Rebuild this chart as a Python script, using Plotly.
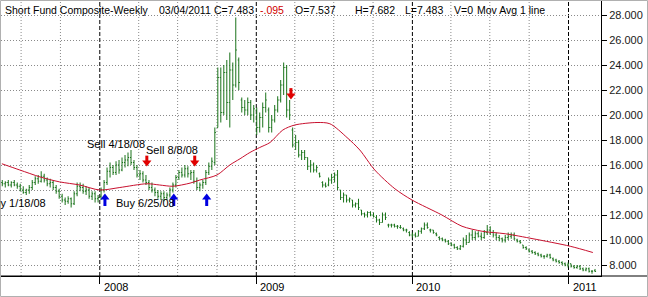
import plotly.graph_objects as go
import pandas as pd

# ---------------- data (weekly OHLC) ----------------
open_ = [
    14.6, 14.5, 14.6, 14.4, 14.6, 14.4, 14.3, 14.0, 13.8, 14.0,
    14.2, 14.6, 14.9, 14.7, 15.1, 14.8, 14.5, 14.6, 14.2, 13.9,
    13.5, 13.2, 13.1, 13.3, 12.9, 13.7, 14.3, 14.2, 13.9, 14.0,
    13.5, 13.7, 13.3, 13.5, 14.0, 14.6, 15.5, 15.8, 15.4, 16.0,
    15.6, 16.2, 16.4, 16.6, 16.2, 15.8, 15.2, 15.3, 14.8, 14.6,
    14.2, 14.0, 13.8, 13.5, 13.7, 13.4, 13.6, 14.0, 14.4, 15.0,
    15.4, 15.2, 15.7, 15.3, 15.4, 14.7, 14.2, 14.4, 14.6, 15.4,
    15.9, 16.2, 19.0, 23.0, 20.2, 23.4, 21.0, 23.6, 22.4, 24.4,
    21.2, 20.6, 20.4, 21.0, 20.0, 20.4, 19.0, 19.8, 20.6, 20.4,
    19.0, 19.6, 20.4, 21.2, 22.4, 23.8, 20.4, 18.8, 17.6, 17.8,
    16.8, 17.0, 16.6, 15.9, 16.0, 15.6, 15.3, 14.6, 14.4, 14.4,
    14.8, 15.0, 15.2, 14.0, 13.4, 13.6, 13.2, 13.2, 12.8, 12.9,
    12.4, 12.1, 12.0, 12.2, 12.0, 11.8, 11.6, 11.4, 12.0, 11.2,
    11.2, 11.2, 11.1, 11.0, 10.9, 10.8, 10.6, 10.4, 10.4, 10.3,
    10.7, 10.9, 11.2, 10.8, 10.8, 10.5, 10.2, 10.1, 10.0, 9.9,
    9.7, 9.6, 9.4, 9.3, 9.5, 10.0, 9.8, 10.4, 10.2, 10.5,
    10.3, 10.2, 10.6, 10.8, 10.6, 10.4, 10.2, 10.1, 10.0, 10.2,
    10.3, 10.4, 10.0, 9.9, 9.6, 9.4, 9.2, 9.1, 9.0, 8.9,
    8.8, 8.7, 8.7, 8.8, 8.5, 8.4, 8.3, 8.2, 8.1, 8.0,
    8.1, 7.9, 7.8, 7.9, 7.7, 7.6, 7.7, 7.5, 7.537,
]
high = [
    14.8, 14.7, 14.8, 14.7, 14.8, 14.6, 14.5, 14.3, 14.1, 14.4,
    14.8, 15.1, 15.2, 15.5, 15.3, 15.0, 14.9, 14.8, 14.4, 14.1,
    13.7, 13.4, 13.5, 13.4, 13.9, 14.6, 14.6, 14.5, 14.3, 14.2,
    13.9, 13.9, 13.6, 14.2, 14.8, 15.8, 16.2, 16.0, 16.3, 16.4,
    16.6, 16.8, 17.0, 17.2, 16.4, 16.0, 15.6, 15.5, 15.2, 14.8,
    14.6, 14.2, 14.0, 13.9, 13.9, 13.8, 14.2, 14.6, 15.2, 15.6,
    15.8, 16.0, 15.9, 15.6, 15.6, 15.0, 14.6, 14.8, 15.6, 16.2,
    16.6, 19.0, 23.8, 23.8, 24.0, 24.4, 25.0, 24.2, 27.8, 24.6,
    21.4, 21.2, 21.4, 21.2, 20.8, 20.6, 20.2, 21.0, 21.8, 20.6,
    20.0, 20.8, 21.5, 22.8, 24.2, 24.0, 21.2, 19.0, 18.4, 18.0,
    17.2, 17.2, 16.6, 16.4, 16.2, 16.0, 15.4, 14.7, 14.6, 15.0,
    15.3, 15.4, 15.6, 14.0, 13.8, 13.6, 13.4, 13.2, 13.0, 13.3,
    12.4, 12.2, 12.3, 12.3, 12.2, 12.0, 11.7, 12.2, 12.2, 11.3,
    11.3, 11.3, 11.2, 11.2, 11.0, 10.9, 10.7, 10.6, 10.6, 10.8,
    11.0, 11.4, 11.4, 10.9, 10.8, 10.6, 10.3, 10.2, 10.1, 10.0,
    9.8, 9.7, 9.5, 9.6, 10.2, 10.4, 10.6, 10.8, 10.7, 10.7,
    10.6, 10.8, 11.2, 11.1, 10.8, 10.6, 10.4, 10.2, 10.4, 10.6,
    10.6, 10.6, 10.1, 10.0, 9.6, 9.5, 9.3, 9.2, 9.1, 9.0,
    8.9, 8.8, 8.9, 8.9, 8.6, 8.5, 8.4, 8.3, 8.2, 8.2,
    8.1, 8.0, 8.0, 8.0, 7.8, 7.8, 7.8, 7.6, 7.682,
]
low = [
    14.3, 14.2, 14.3, 14.2, 14.3, 14.1, 13.9, 13.7, 13.6, 13.7,
    14.0, 14.4, 14.5, 14.6, 14.6, 14.3, 14.2, 14.0, 13.7, 13.3,
    13.0, 12.8, 12.9, 12.6, 12.8, 13.5, 13.9, 13.7, 13.6, 13.3,
    13.2, 13.0, 13.0, 13.2, 13.8, 14.4, 15.0, 15.2, 15.2, 15.3,
    15.5, 15.8, 15.9, 16.0, 15.6, 15.0, 14.8, 14.6, 14.4, 14.0,
    13.8, 13.5, 13.3, 13.2, 13.1, 13.2, 13.4, 13.8, 14.2, 14.8,
    15.0, 15.0, 15.0, 14.8, 14.5, 14.0, 13.9, 14.1, 14.4, 15.2,
    15.6, 16.0, 19.0, 19.4, 20.0, 19.6, 19.0, 21.2, 22.2, 22.0,
    20.2, 20.0, 20.0, 19.6, 19.4, 18.4, 18.6, 19.0, 20.2, 18.6,
    18.6, 19.4, 20.2, 21.0, 21.6, 19.8, 19.6, 17.4, 17.2, 16.6,
    16.4, 16.4, 15.6, 15.4, 15.4, 15.4, 15.0, 14.2, 14.2, 14.3,
    14.5, 14.6, 14.0, 13.2, 13.0, 13.0, 13.0, 12.6, 12.6, 12.4,
    12.0, 11.8, 11.8, 11.9, 11.8, 11.4, 11.2, 11.4, 11.6, 11.0,
    11.0, 11.0, 10.9, 10.9, 10.7, 10.6, 10.3, 10.2, 10.2, 10.3,
    10.5, 10.8, 10.9, 10.6, 10.5, 10.3, 10.0, 9.9, 9.8, 9.6,
    9.5, 9.3, 9.2, 9.2, 9.4, 9.6, 9.8, 10.0, 10.0, 10.2,
    10.0, 10.1, 10.4, 10.4, 10.2, 10.0, 9.9, 9.8, 9.8, 10.0,
    10.1, 10.0, 9.8, 9.7, 9.3, 9.2, 9.0, 8.9, 8.8, 8.7,
    8.6, 8.5, 8.6, 8.5, 8.3, 8.2, 8.1, 8.0, 7.9, 7.8,
    7.8, 7.7, 7.7, 7.6, 7.5, 7.5, 7.4, 7.3, 7.483,
]
close = [
    14.5, 14.6, 14.4, 14.6, 14.4, 14.3, 14.0, 13.8, 14.0, 14.2,
    14.6, 14.9, 14.7, 15.1, 14.8, 14.5, 14.6, 14.2, 13.9, 13.5,
    13.2, 13.1, 13.3, 12.9, 13.7, 14.3, 14.2, 13.9, 14.0, 13.5,
    13.7, 13.3, 13.4, 14.0, 14.6, 15.5, 15.8, 15.4, 16.0, 15.6,
    16.2, 16.4, 16.6, 16.2, 15.8, 15.2, 15.3, 14.8, 14.6, 14.2,
    14.0, 13.8, 13.5, 13.7, 13.4, 13.6, 14.0, 14.4, 15.0, 15.4,
    15.2, 15.7, 15.3, 15.4, 14.7, 14.2, 14.4, 14.6, 15.4, 15.9,
    16.3, 18.6, 23.0, 20.2, 23.4, 21.0, 23.6, 22.4, 25.2, 22.6,
    20.6, 20.4, 21.0, 20.0, 20.5, 19.0, 19.8, 20.6, 21.2, 19.0,
    19.6, 20.4, 21.2, 22.4, 23.8, 20.4, 20.0, 17.6, 17.8, 16.8,
    17.0, 16.6, 15.9, 16.0, 15.6, 15.8, 15.1, 14.4, 14.3, 14.8,
    15.0, 15.2, 14.2, 13.4, 13.6, 13.2, 13.3, 12.8, 12.9, 12.6,
    12.1, 12.0, 12.2, 12.0, 11.9, 11.6, 11.4, 12.0, 11.8, 11.2,
    11.2, 11.1, 11.1, 11.0, 10.8, 10.8, 10.4, 10.4, 10.3, 10.7,
    10.9, 11.2, 11.0, 10.8, 10.6, 10.4, 10.1, 10.0, 9.9, 9.7,
    9.6, 9.4, 9.3, 9.5, 10.0, 9.8, 10.4, 10.2, 10.5, 10.3,
    10.2, 10.6, 10.8, 10.6, 10.4, 10.2, 10.1, 10.0, 10.2, 10.3,
    10.4, 10.1, 9.9, 9.8, 9.4, 9.3, 9.1, 9.0, 8.9, 8.8,
    8.7, 8.7, 8.8, 8.6, 8.4, 8.3, 8.2, 8.1, 8.0, 8.1,
    7.9, 7.8, 7.9, 7.7, 7.6, 7.7, 7.5, 7.5, 7.483,
]
last_date = "2011-03-04"

# moving average line
ma_dates = [
    "2007-05-17", "2007-06-28", "2007-08-14", "2007-09-29", "2007-11-15",
    "2008-01-01", "2008-02-17", "2008-04-20", "2008-05-20", "2008-06-20",
    "2008-07-30", "2008-08-22", "2008-10-01", "2008-10-31", "2008-11-24",
    "2008-12-17", "2009-01-09", "2009-02-02", "2009-03-04", "2009-04-01",
    "2009-05-23", "2009-06-22", "2009-08-01", "2009-08-31", "2009-10-05",
    "2009-11-21", "2009-12-31", "2010-03-11", "2010-04-27", "2010-06-13",
    "2010-08-06", "2010-10-10", "2011-01-05", "2011-02-27",
]
ma_values = [
    16.1, 15.6, 15.05, 14.65, 14.4,
    14.0, 14.2, 14.5, 14.4, 14.3,
    14.55, 14.8, 15.2, 16.0, 16.5,
    17.0, 17.4, 17.8, 18.8, 19.2,
    19.4, 19.3, 18.2, 17.2, 15.6,
    14.1, 13.2, 12.0, 11.1, 10.7,
    10.5, 10.1, 9.5, 9.0,
]

# signal arrows: head position and shaft end (price levels)
sell_dates = ["2008-04-20", "2008-08-10", "2009-03-23"]
sell_head = [16.2, 16.2, 21.56]
sell_shaft_top = [16.75, 16.75, 22.15]
buy_dates = ["2008-01-13", "2008-06-22", "2008-09-07"]
buy_head = [13.4, 13.4, 13.4]
buy_shaft_bottom = [12.72, 12.72, 12.72]

label_texts = ["Sell 4/18/08", "Sell 8/8/08", "Buy 6/25/08", "Buy 1/18/08"]
label_dates = ["2008-02-08", "2008-06-19", "2008-04-18", "2007-09-02"]
label_values = [17.68, 17.2, 12.96, 12.96]
label_anchor = ["center", "center", "center", "right"]

y_ticks = [8, 10, 12, 14, 16, 18, 20, 22, 24, 26, 28]
y_tick_text = ["8.000", "10.000", "12.000", "14.000", "16.000", "18.000",
               "20.000", "22.000", "24.000", "26.000", "28.000"]
year_ticks = ["2008-01-01", "2009-01-01", "2010-01-01", "2011-01-01"]
year_labels = ["2008", "2009", "2010", "2011"]
quarter_lines = ["2007-07-01", "2007-10-01", "2008-04-01", "2008-07-01", "2008-10-01",
                 "2009-04-01", "2009-07-01", "2009-10-01", "2010-04-01", "2010-07-01",
                 "2010-10-01"]

header_parts = ["Short Fund Composite-Weekly", "03/04/2011", "C=7.483", "-.095",
                "O=7.537", "H=7.682", "L=7.483", "V=0", "Mov Avg 1 line"]
header_colors = ["#000", "#000", "#000", "#d00000", "#000", "#000", "#000", "#000", "#000"]
header_px = [3, 157, 212, 258, 293, 353, 403, 452, 475]

# ---------------- figure ----------------
FONT = "Liberation Sans, Arial, sans-serif"
W, H = 648, 297
ML, MR, MT, MB = 1, 47, 1, 21
PW, PH = W - ML - MR, H - MT - MB

dates = pd.date_range(end=last_date, periods=len(close), freq="W-FRI")

fig = go.Figure()
fig.add_trace(go.Ohlc(
    x=dates, open=open_, high=high, low=low, close=close,
    increasing=dict(line=dict(color="#1a731a", width=1)),
    decreasing=dict(line=dict(color="#1a731a", width=1)),
    tickwidth=0.35, showlegend=False, hoverinfo="skip",
))
fig.add_trace(go.Scatter(
    x=pd.to_datetime(ma_dates), y=ma_values, mode="lines",
    line=dict(color="#c8102e", width=1, shape="spline", smoothing=0.8),
    showlegend=False, hoverinfo="skip",
))


def arrow_traces(dts, heads, shaft_ends, color, symbol):
    sx, sy = [], []
    for d, h, e in zip(dts, heads, shaft_ends):
        sx += [d, d, None]
        sy += [h, e, None]
    shaft = go.Scatter(x=sx, y=sy, mode="lines", line=dict(color=color, width=3),
                       showlegend=False, hoverinfo="skip")
    head = go.Scatter(x=dts, y=heads, mode="markers",
                      marker=dict(symbol=symbol, size=8, color=color, line=dict(width=0)),
                      showlegend=False, hoverinfo="skip")
    return [shaft, head]


for tr in arrow_traces(sell_dates, sell_head, sell_shaft_top, "#e00000", "triangle-down"):
    fig.add_trace(tr)
for tr in arrow_traces(buy_dates, buy_head, buy_shaft_bottom, "#0000e0", "triangle-up"):
    fig.add_trace(tr)

shapes = []
for d in quarter_lines:
    shapes.append(dict(type="line", xref="x", yref="paper", x0=d, x1=d, y0=0, y1=1,
                       line=dict(color="#8a8a8a", width=1, dash="1px,2px"), layer="below"))
for d in year_ticks:
    shapes.append(dict(type="line", xref="x", yref="paper", x0=d, x1=d, y0=0, y1=1,
                       line=dict(color="#000", width=1, dash="4px,2px"), layer="below"))
# bottom axis line across full width
shapes.append(dict(type="line", xref="paper", yref="paper", x0=-0.01, x1=1.1, y0=0, y1=0,
                   line=dict(color="#000", width=1)))
# outer frame
shapes.append(dict(type="rect", xref="paper", yref="paper",
                   x0=(0.5 - ML) / PW, x1=(W - 0.5 - ML) / PW,
                   y0=(PH + MT - (H - 0.5)) / PH, y1=(PH + MT - 0.5) / PH,
                   line=dict(color="#b0b0b0", width=1)))

annotations = []
for txt, col, px in zip(header_parts, header_colors, header_px):
    annotations.append(dict(text=txt, xref="paper", yref="paper",
                            x=(px - ML) / PW, y=(PH + MT - 10) / PH,
                            xanchor="left", yanchor="middle", showarrow=False,
                            font=dict(family=FONT, size=10.5, color=col)))
for txt, d, v, a in zip(label_texts, label_dates, label_values, label_anchor):
    annotations.append(dict(text=txt, x=d, y=v, xref="x", yref="y", xanchor=a,
                            yanchor="middle", showarrow=False,
                            font=dict(family=FONT, size=11, color="#000")))
for d, t in zip(year_ticks, year_labels):
    annotations.append(dict(text=t, x=d, xref="x", yref="paper", y=(PH + MT - 287) / PH,
                            xanchor="left", yanchor="middle", xshift=2, showarrow=False,
                            font=dict(family=FONT, size=11, color="#000")))

fig.update_layout(
    width=W, height=H, autosize=False,
    margin=dict(l=ML, r=MR, t=MT, b=MB, pad=0),
    paper_bgcolor="white", plot_bgcolor="white",
    shapes=shapes, annotations=annotations,
    font=dict(family=FONT, size=11, color="#000"),
    xaxis=dict(type="date", range=["2007-05-15", "2011-03-18"],
               rangeslider=dict(visible=False), showgrid=False, zeroline=False,
               showline=True, linecolor="#000", linewidth=1,
               tickmode="array", tickvals=year_ticks, ticks="outside", ticklen=7,
               tickcolor="#000", showticklabels=False),
    yaxis=dict(side="right", range=[7.12, 29.12], tickmode="array", tickvals=y_ticks,
               ticktext=y_tick_text, ticks="outside", ticklen=5, tickcolor="#000",
               showline=True, linecolor="#000", linewidth=1, zeroline=False,
               showgrid=True, gridcolor="#8a8a8a", gridwidth=1, griddash="1px,2px",
               tickfont=dict(family=FONT, size=11, color="#1a1a1a")),
)

fig.write_html("out.html")
